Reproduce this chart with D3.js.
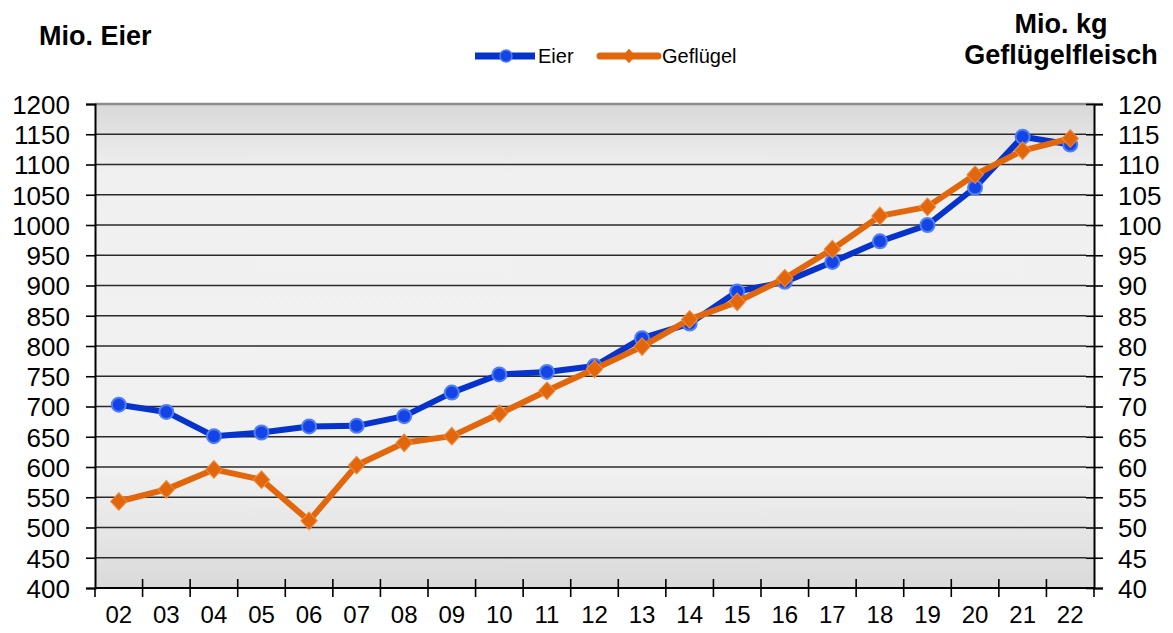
<!DOCTYPE html>
<html><head><meta charset="utf-8">
<script src="https://cdn.jsdelivr.net/npm/d3@7"></script>
<style>
html,body{margin:0;padding:0;background:#fff;}
svg text{font-family:"Liberation Sans",Arial,sans-serif;fill:#000;}
</style></head>
<body>
<svg id="chart" width="1173" height="633"></svg>
<script>
const years = ["02","03","04","05","06","07","08","09","10","11","12","13","14","15","16","17","18","19","20","21","22"];
const eier = [703,691,651,657,667,668,684,723,753,757,767,813,837,890,906,939,973,1000,1062,1146,1133];
const gefluegel = [54.3,56.3,59.6,57.9,51.1,60.3,64.0,65.1,68.8,72.6,76.2,79.9,84.4,87.3,91.2,96.0,101.5,103.0,108.3,112.3,114.3];
const leftTicks = d3.range(400, 1201, 50);
const rightTicks = d3.range(40, 121, 5);
const seriesNames = ["Eier","Geflügel"];

const svg = d3.select("#chart");
const L = 95, R = 1094, T = 104, B = 588;
const x = d3.scaleBand().domain(years).range([L, R]).padding(0);
const yL = d3.scaleLinear().domain([400, 1200]).range([B, T]);
const yR = d3.scaleLinear().domain([40, 120]).range([B, T]);
const blue = "#0533cc", blueMk = "#1443e6", blueEdge = "#4f7ef5";
const orange = "#e2670c";

// background gradient
const defs = svg.append("defs");
const g = defs.append("linearGradient").attr("id","bg").attr("x1",0).attr("y1",0).attr("x2",0).attr("y2",1);
[[0,"#d8d8d8"],[0.14,"#f0f0f0"],[0.75,"#f1f1f1"],[0.88,"#e6e6e6"],[1,"#d9d9d9"]].forEach(([o,c])=>g.append("stop").attr("offset",o).attr("stop-color",c));
svg.append("rect").attr("x",L).attr("y",T).attr("width",R-L).attr("height",B-T).attr("fill","url(#bg)");

// gridlines
svg.append("g").selectAll("line").data(leftTicks.filter(v=>v>400 && v<1200)).join("line")
  .attr("x1",L).attr("x2",R-8).attr("y1",d=>yL(d)).attr("y2",d=>yL(d))
  .attr("stroke","#2a2a2a").attr("stroke-width",1.6);
svg.append("line").attr("x1",L).attr("x2",R).attr("y1",T).attr("y2",T).attr("stroke","#8c8c8c").attr("stroke-width",2.5);

// left axis
const axL = svg.append("g").attr("transform",`translate(${L},0)`)
  .call(d3.axisLeft(yL).tickValues(leftTicks).tickSize(9).tickPadding(16).tickFormat(d3.format("d")));
axL.select(".domain").attr("stroke","#000").attr("stroke-width",2);
axL.selectAll(".tick line").attr("stroke","#000").attr("stroke-width",1.6);
axL.selectAll("text").style("font-size","26px").attr("dy","0.36em");

// right axis
const axR = svg.append("g").attr("transform",`translate(${R},0)`)
  .call(d3.axisRight(yR).tickValues(rightTicks).tickSize(9).tickPadding(15).tickFormat(d3.format("d")));
axR.select(".domain").attr("stroke","#000").attr("stroke-width",2);
axR.selectAll(".tick line").attr("x1",-8).attr("stroke","#000").attr("stroke-width",1.6);
axR.selectAll("text").style("font-size","26px").attr("dy","0.36em");

// bottom axis
const axB = svg.append("g").attr("transform",`translate(0,${B})`)
  .call(d3.axisBottom(x).tickSize(0).tickPadding(18));
axB.select(".domain").remove();
axB.selectAll("text").style("font-size","24px").attr("dy","0.71em");
svg.append("line").attr("x1",L).attr("x2",R).attr("y1",B).attr("y2",B).attr("stroke","#000").attr("stroke-width",2);
const bounds = years.map(d=>x(d)).concat([x(years[years.length-1])+x.bandwidth()]);
svg.append("g").selectAll("line").data(bounds).join("line")
  .attr("x1",d=>d).attr("x2",d=>d).attr("y1",(d,i)=>i===0||i===bounds.length-1?B:B-9).attr("y2",B+9)
  .attr("stroke","#000").attr("stroke-width",1.6);

// lines
const cx = d=>x(d)+x.bandwidth()/2;
const lineE = d3.line().x((d,i)=>cx(years[i])).y(d=>yL(d));
const lineG = d3.line().x((d,i)=>cx(years[i])).y(d=>yR(d));
svg.append("path").datum(eier).attr("d",lineE).attr("fill","none").attr("stroke",blue).attr("stroke-width",6).attr("stroke-linejoin","round");
svg.append("g").selectAll("circle").data(eier).join("circle")
  .attr("cx",(d,i)=>cx(years[i])).attr("cy",d=>yL(d)).attr("r",7)
  .attr("fill",blueMk).attr("stroke",blueEdge).attr("stroke-width",2);
svg.append("path").datum(gefluegel).attr("d",lineG).attr("fill","none").attr("stroke",orange).attr("stroke-width",6).attr("stroke-linejoin","round");
const diamond = d3.symbol().type(d3.symbolDiamond2).size(170);
svg.append("g").selectAll("path").data(gefluegel).join("path")
  .attr("d",diamond).attr("transform",(d,i)=>`translate(${cx(years[i])},${yR(d)}) scale(1,1.08)`)
  .attr("fill",orange).attr("stroke","#ee8a3c").attr("stroke-width",1);

// titles
svg.append("text").attr("x",39).attr("y",45).style("font-size","27px").style("font-weight","bold").text("Mio. Eier");
svg.append("text").attr("x",1061).attr("y",33).attr("text-anchor","middle").style("font-size","27px").style("font-weight","bold").text("Mio. kg");
svg.append("text").attr("x",1061).attr("y",64).attr("text-anchor","middle").style("font-size","27px").style("font-weight","bold").text("Geflügelfleisch");

// legend
const lg = svg.append("g");
lg.append("line").attr("x1",475).attr("x2",535).attr("y1",56).attr("y2",56).attr("stroke",blue).attr("stroke-width",7);
lg.append("circle").attr("cx",506).attr("cy",56).attr("r",6).attr("fill",blueMk).attr("stroke",blueEdge).attr("stroke-width",1.5);
lg.append("text").attr("x",538).attr("y",63).style("font-size","20px").text(seriesNames[0]);
lg.append("line").attr("x1",600).attr("x2",658).attr("y1",56).attr("y2",56).attr("stroke",orange).attr("stroke-width",7).attr("stroke-linecap","round");
lg.append("path").attr("d",d3.symbol().type(d3.symbolDiamond2).size(110)).attr("transform","translate(629,56) scale(1,1.1)").attr("fill",orange);
lg.append("text").attr("x",662).attr("y",63).style("font-size","20px").text(seriesNames[1]);
</script>
</body></html>
